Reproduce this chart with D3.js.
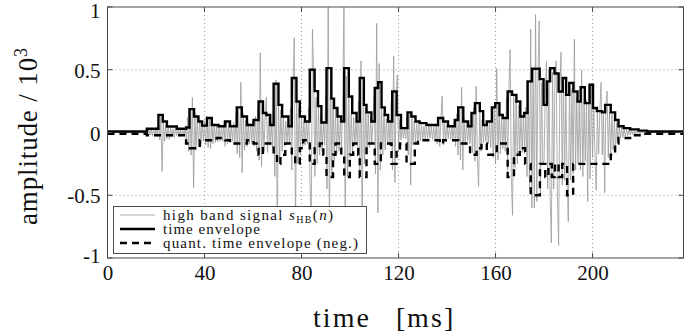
<!DOCTYPE html>
<html>
<head>
<meta charset="utf-8">
<script src="https://cdn.jsdelivr.net/npm/d3@7/dist/d3.min.js"></script>
<style>
    body { margin: 0; background: #fff; }
    svg text { font-family: "Liberation Serif", "DejaVu Serif", serif; fill: #111; }
</style>
</head>
<body>
<div id="chart"></div>
<script>
// high band signal, raw amplitude, one value every sampleStep ms
const sampleStep = 0.5;
const hbSignal = [
    2, -3, 4, -2, 3, -4, 2, -3, 5, -2, 3, -4, 2, -3, 4, -3, 2, -4, 3, -2,
    3, -4, 2, -5, 4, -3, 5, -4, 3, -6, 6, -8, 10, -12, 25, -20, 35, -30, 28, -25,
    40, -35, 90, -60, 120, -310, 80, -70, 60, -50, 45, -55, 40, -35, 30, -40, 35, -25, 30, -30,
    25, -30, 35, -25, 30, -60, 120, -150, 170, -180, 280, -440, 160, -140, 120, -110, 100, -90, 80, -70,
    90, -100, 130, -120, 110, -130, 80, -90, 70, -80, 60, -75, 55, -65, 60, -70, 90, -110, 100, -90,
    70, -80, 60, -70, 80, -100, 150, -170, 190, -200, 400, -320, 150, -140, 100, -110, 80, -90, 70, -85,
    90, -110, 130, -150, 200, -220, 635, -270, 160, -150, 140, 280, -160, 120, -100, 80, -120, 300, -350, 420,
    -800, 250, -200, 180, -150, 130, -110, 90, -80, 70, -90, 200, -300, 380, 755, -800, 300, -250, 200, -180,
    120, -110, 90, -100, 80, -90, 200, -400, -800, 825, 450, -350, 280, -250, 200, -180, 130, -150, 90, -100,
    300, -450, 1000, -800, 450, -350, 260, -220, 180, -170, 130, -150, 110, -120, 300, 1000, -800, 450, -350, 280,
    -200, 150, -160, 120, -100, 90, -110, 250, -350, 570, -800, 350, -250, 200, -170, 150, -120, 100, -90, 120,
    300, -330, 870, -640, 550, -300, 200, -180, 150, -140, 110, -100, 90, -110, 250, -300, 610, -400, 300, 460,
    -150, 100, -60, 50, -45, 40, -50, 120, -180, 150, -420, 120, -100, 90, -80, 70, -75, 60, -65, 55,
    -60, 50, -55, 45, -50, 55, -45, 50, -55, 45, -60, 55, -90, 100, -110, 120, 290, -100, 80, -70,
    55, -50, 45, -55, 50, -60, 90, -110, 150, -180, 200, -220, 360, -300, 120, -100, 80, -70, 60, -90,
    150, -160, 200, -230, 370, -200, -430, 180, -150, 100, -80, 60, -70, 80, -90, 100, -120, 180, -200, 220,
    -250, 510, -220, 200, -170, 150, -130, 120, -150, 280, -300, 320, 660, -350, -660, 300, -280, 260, -250, 220,
    -150, 130, -160, 150, -170, 200, -350, 400, -450, 825, -600, 500, -600, 940, -550, 480, 890, -500, 400, -250,
    -220, 300, 566, -450, 500, -500, -880, 480, -450, 470, 570, -500, -900, 330, 640, -420, 430, -380, 300, -350,
    -710, 390, -380, 350, -330, 745, -300, 280, -250, 240, -300, 500, -350, 240, -230, 260, -550, 380, -370, 370,
    -200, 190, -180, -460, 170, -170, 160, 400, -180, 170, -480, 220, 330, -200, 160, -170, 150, -140, 100, -140,
    80, -90, 50, -45, 35, -40, 30, -30, 25, -25, 20, -20, 18, -15, 15, -12, 12, -10, 10, -10,
    6, -5, 4, -6, 5, -4, 6, -5, 4, -5, 5, -4, 6, -5, 4, -6, 5, -4, 5, -5,
    4, -5, 6, -4, 5, -5, 4, -6, 5, -4, 6, -5, 4, -5, 5, -4
];

// time envelope: step start times (ms) and levels
const envT = [0, 16.2, 21.0, 22.8, 24.5, 28.6, 32.4, 33.8, 35.7, 37.5, 39, 41.0, 43.0, 45.8, 48.5, 50.5,
    53.3, 55.4, 57.5, 60.2, 62.3, 64.1, 65.5, 67.1, 68.5, 70.5, 72, 74.6, 76.0, 77.9, 79.3, 81.4,
    83.4, 85.4, 86.8, 88.2, 90.3, 92.3, 93.4, 94.8, 96.4, 97.6, 99.5, 100.9, 102.7, 104.0, 105.7, 106.8,
    108.8, 110.2, 111.6, 113, 114.3, 115.7, 117.4, 119.2, 121, 123.7, 125.3, 127, 128.7, 131.5, 136.3,
    138.4, 140.4, 143.2, 144.6, 146.7, 148.7, 150.1, 151.5, 153.5, 154.9, 156.4, 158.5, 159.9, 161.6,
    163, 165, 166.8, 168.6, 170.2, 171.8, 173.2, 175, 178.2, 179.8, 181.2, 182.5, 184.3, 186, 187.7,
    189.1, 190.4, 192.1, 193.8, 195.1, 196.8, 198.8, 200.2, 201.8, 203.9, 205.2, 207.5, 209.3, 210.7,
    212.8, 215.5, 219, 222.5, 237.5];
const envV = [8, 30, 140, 88, 48, 30, 40, 186, 128, 88, 55, 115, 60, 50, 88, 50,
    200, 128, 60, 100, 247, 155, 140, 60, 388, 220, 128, 50, 434, 247, 128, 88,
    500, 330, 210, 80, 513, 270, 195, 128, 88, 513, 287, 155, 88, 434, 220, 160,
    88, 354, 400, 200, 140, 88, 327, 140, 35, 160, 128, 88, 75, 60, 115,
    88, 50, 100, 200, 88, 50, 155, 234, 170, 60, 88, 200, 234, 140,
    115, 327, 300, 247, 128, 155, 407, 508, 425, 220, 407, 513, 470, 327, 434,
    300, 394, 327, 247, 360, 234, 380, 195, 170, 160, 220, 160, 100, 50,
    35, 25, 15, 8, 8];

// quantized time envelope, drawn negated
const quantT = [0, 16.2, 32.4, 34, 38.1, 45, 48.5, 50.5, 57.5, 60.2, 62.3, 64.1, 68.5, 69.9, 71.3, 73.3,
    76, 77.4, 79.3, 80.7, 83.4, 85.4, 87.5, 89, 90.3, 93, 94, 96.4, 97.6, 99.9, 101.3, 103.4, 104,
    106.8, 110.2, 112.7, 117.1, 119.2, 120.6, 123.3, 126.7, 128, 137, 138.4, 144.6, 149.5, 152.2,
    154.2, 156.4, 160.5, 165, 167.6, 170, 172.2, 174.5, 178.3, 180.5, 181.8, 183.2, 184.5, 186,
    187.5, 189.5, 192, 207.5, 209.3, 210.7, 215.5, 221, 237.5];
const quantV = [-10, -22, -88, -125, -62, -44, -62, -88, -62, -88, -177, -88, -177, -250, -177, -88,
    -177, -250, -125, -62, -250, -125, -88, -177, -354, -177, -88, -177, -354, -177, -88, -177, -354,
    -88, -250, -88, -250, -125, -88, -250, -88, -62, -88, -62, -88, -177, -125,
    -88, -177, -88, -354, -177, -125, -250, -500, -250, -354, -250, -354, -250, -354,
    -250, -500, -250, -177, -88, -44, -22, -10, -10];

const xTicks = [0, 40, 80, 120, 160, 200];
const yTicks = [-1000, -500, 0, 500, 1000];
const yTickLabels = ["-1", "-0.5", "0", "0.5", "1"];
const legendLabels = ["high band signal", "time envelope", "quant. time envelope (neg.)"];

class EnvelopePlot {
    constructor(parentElement) {
        this.parentElement = parentElement;
        this.signal = hbSignal.map((v, i) => ({t: i * sampleStep, v: v}));
        this.env = envT.map((t, i) => ({t: t, v: envV[i]}));
        this.quant = quantT.map((t, i) => ({t: t, v: quantV[i]}));
        this.render();
    }

    render() {
        let vis = this;

        vis.margin = {top: 7, right: 11.5, bottom: 78, left: 107.5};
        vis.width = 695 - vis.margin.left - vis.margin.right;
        vis.height = 336 - vis.margin.top - vis.margin.bottom;

        vis.root = d3.select("#" + vis.parentElement).append("svg")
            .attr("width", 695)
            .attr("height", 336);

        vis.svg = vis.root.append("g")
            .attr("transform", `translate(${vis.margin.left}, ${vis.margin.top})`);

        vis.x = d3.scaleLinear().domain([0, 237.5]).range([0, vis.width]);
        vis.y = d3.scaleLinear().domain([-1000, 1000]).range([vis.height, 0]);

        vis.root.append("defs").append("clipPath")
            .attr("id", "plot-clip")
            .append("rect")
            .attr("width", vis.width)
            .attr("height", vis.height);

        // dotted grid
        vis.svg.append("g").selectAll("line")
            .data(xTicks.filter(d => d > 0))
            .enter().append("line")
            .attr("x1", d => vis.x(d)).attr("x2", d => vis.x(d))
            .attr("y1", 0).attr("y2", vis.height)
            .attr("stroke", "#9a9a9a").attr("stroke-width", 1)
            .attr("stroke-dasharray", "1,3");

        vis.svg.append("g").selectAll("line")
            .data(yTicks.filter(d => Math.abs(d) < 1000))
            .enter().append("line")
            .attr("x1", 0).attr("x2", vis.width)
            .attr("y1", d => vis.y(d)).attr("y2", d => vis.y(d))
            .attr("stroke", "#9a9a9a").attr("stroke-width", 1)
            .attr("stroke-dasharray", "1,3");

        let plot = vis.svg.append("g").attr("clip-path", "url(#plot-clip)");

        plot.append("path")
            .datum(vis.signal)
            .attr("fill", "none")
            .attr("stroke", "#9b9b9b")
            .attr("stroke-width", 0.8)
            .attr("d", d3.line().x(d => vis.x(d.t)).y(d => vis.y(d.v)));

        plot.append("path")
            .datum(vis.env)
            .attr("fill", "none")
            .attr("stroke", "#000")
            .attr("stroke-width", 2.4)
            .attr("d", d3.line().curve(d3.curveStepAfter).x(d => vis.x(d.t)).y(d => vis.y(d.v)));

        plot.append("path")
            .datum(vis.quant)
            .attr("fill", "none")
            .attr("stroke", "#000")
            .attr("stroke-width", 2.4)
            .attr("stroke-dasharray", "7,5")
            .attr("d", d3.line().curve(d3.curveStepAfter).x(d => vis.x(d.t)).y(d => vis.y(d.v)));

        // frame and inner tick marks
        vis.svg.append("rect")
            .attr("width", vis.width).attr("height", vis.height)
            .attr("fill", "none").attr("stroke", "#4a4a4a").attr("stroke-width", 1);

        let marks = vis.svg.append("g").attr("stroke", "#4a4a4a").attr("stroke-width", 1);
        xTicks.forEach(d => {
            marks.append("line").attr("x1", vis.x(d)).attr("x2", vis.x(d)).attr("y1", vis.height).attr("y2", vis.height - 5);
            marks.append("line").attr("x1", vis.x(d)).attr("x2", vis.x(d)).attr("y1", 0).attr("y2", 5);
        });
        yTicks.forEach(d => {
            marks.append("line").attr("x1", 0).attr("x2", 5).attr("y1", vis.y(d)).attr("y2", vis.y(d));
            marks.append("line").attr("x1", vis.width).attr("x2", vis.width - 5).attr("y1", vis.y(d)).attr("y2", vis.y(d));
        });

        // tick labels
        let xAxis = vis.svg.append("g")
            .attr("transform", `translate(0, ${vis.height})`)
            .call(d3.axisBottom(vis.x).tickValues(xTicks).tickSize(0).tickPadding(7));
        let yAxis = vis.svg.append("g")
            .call(d3.axisLeft(vis.y).tickValues(yTicks).tickSize(0).tickPadding(7)
                .tickFormat((d, i) => yTickLabels[i]));
        [xAxis, yAxis].forEach(a => {
            a.select(".domain").remove();
            a.selectAll("text")
                .attr("font-family", '"Liberation Serif", serif')
                .style("font-size", "21px")
                .attr("fill", "#111");
        });
        // end labels sit slightly inside the frame
        yAxis.selectAll("text").attr("dy", d => d === 1000 ? "0.5em" : d === -1000 ? "0.2em" : "0.36em");

        // axis titles
        let xTitle = vis.root.append("g").style("font-size", "28px");
        xTitle.append("text").attr("x", 313).attr("y", 327)
            .attr("textLength", 56).attr("lengthAdjust", "spacing").text("time");
        xTitle.append("text").attr("x", 396).attr("y", 327).text("[");
        xTitle.append("text").attr("x", 407).attr("y", 327)
            .attr("textLength", 35).attr("lengthAdjust", "spacing").text("ms");
        xTitle.append("text").attr("x", 444).attr("y", 327).text("]");

        let yTitle = vis.root.append("text")
            .attr("transform", "translate(37, 225) rotate(-90)")
            .attr("textLength", 177).attr("lengthAdjust", "spacing")
            .style("font-size", "27px");
        yTitle.append("tspan").text("amplitude / 10");
        yTitle.append("tspan").attr("dy", -10).style("font-size", "18px").text("3");

        vis.renderLegend();
    }

    renderLegend() {
        let vis = this;
        let lg = vis.root.append("g");

        lg.append("rect")
            .attr("x", 113.5).attr("y", 206.5)
            .attr("width", 253).attr("height", 47)
            .attr("fill", "#fff").attr("stroke", "#4a4a4a").attr("stroke-width", 1);

        const rowY = [215, 229, 243];
        const textLen = [170, 97, 195];
        const styles = [
            {stroke: "#9b9b9b", width: 0.8, dash: null},
            {stroke: "#000", width: 2.4, dash: null},
            {stroke: "#000", width: 2.4, dash: "7,5"}
        ];

        legendLabels.forEach((label, i) => {
            lg.append("line")
                .attr("x1", 120).attr("x2", 155)
                .attr("y1", rowY[i]).attr("y2", rowY[i])
                .attr("stroke", styles[i].stroke)
                .attr("stroke-width", styles[i].width)
                .attr("stroke-dasharray", styles[i].dash);

            let t = lg.append("text")
                .attr("x", 163).attr("y", rowY[i] + 5)
                .attr("textLength", textLen[i]).attr("lengthAdjust", "spacing")
                .style("font-size", "15px");
            t.append("tspan").text(label);
            if (i === 0) {
                t.append("tspan").text(" ");
                t.append("tspan").style("font-style", "italic").text("s");
                t.append("tspan").attr("dy", 3).style("font-size", "10px").text("HB");
                t.append("tspan").attr("dy", -3).text("(");
                t.append("tspan").style("font-style", "italic").text("n");
                t.append("tspan").text(")");
            }
        });
    }
}

new EnvelopePlot("chart");
</script>
</body>
</html>
